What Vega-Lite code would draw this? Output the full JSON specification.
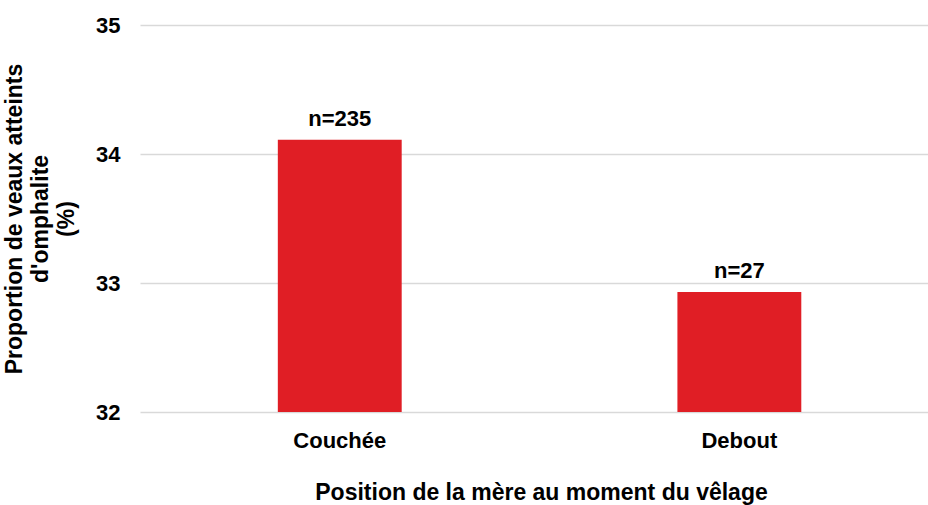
{
  "$schema": "https://vega.github.io/schema/vega-lite/v6.json",
  "width": 788,
  "height": 387,
  "autosize": {"type": "none"},
  "padding": {"left": 140, "top": 25, "right": 0, "bottom": 93},
  "background": "white",
  "config": {
    "view": {"stroke": null},
    "font": "Liberation Sans"
  },
  "data": {
    "values": [
      {"position": "Couchée", "proportion": 34.11, "label": "n=235"},
      {"position": "Debout", "proportion": 32.93, "label": "n=27"}
    ]
  },
  "encoding": {
    "x": {
      "field": "position",
      "type": "nominal",
      "sort": null,
      "scale": {"paddingInner": 0.69, "paddingOuter": 0.331, "align": 0.521},
      "axis": {
        "title": "Position de la mère au moment du vêlage",
        "titleFont": "Liberation Sans",
        "titleFontSize": 23,
        "titleFontWeight": "bold",
        "titleColor": "#000000",
        "titlePadding": 30,
        "titleX": 401,
        "labelFont": "Liberation Sans",
        "labelFontSize": 22,
        "labelFontWeight": "bold",
        "labelColor": "#000000",
        "labelAngle": 0,
        "labelPadding": 18,
        "domain": false,
        "ticks": false,
        "grid": false
      }
    },
    "y": {
      "field": "proportion",
      "type": "quantitative",
      "scale": {"domain": [32, 35], "zero": false, "nice": false},
      "axis": {
        "values": [32, 33, 34, 35],
        "title": ["Proportion de veaux atteints", "d'omphalite", "(%)"],
        "titleFont": "Liberation Sans",
        "titleFontSize": 23,
        "titleFontWeight": "bold",
        "titleColor": "#000000",
        "titleLineHeight": 26,
        "titlePadding": 17,
        "labelFont": "Liberation Sans",
        "labelFontSize": 22,
        "labelFontWeight": "bold",
        "labelColor": "#000000",
        "labelPadding": 20,
        "domain": false,
        "ticks": false,
        "grid": true,
        "gridColor": "#d9d9d9",
        "gridWidth": 1.5
      }
    }
  },
  "layer": [
    {
      "mark": {"type": "bar", "color": "#E01E25", "clip": true}
    },
    {
      "mark": {
        "type": "text",
        "baseline": "bottom",
        "dy": -9,
        "font": "Liberation Sans",
        "fontSize": 22,
        "fontWeight": "bold",
        "color": "#000000"
      },
      "encoding": {"text": {"field": "label", "type": "nominal"}}
    }
  ]
}
